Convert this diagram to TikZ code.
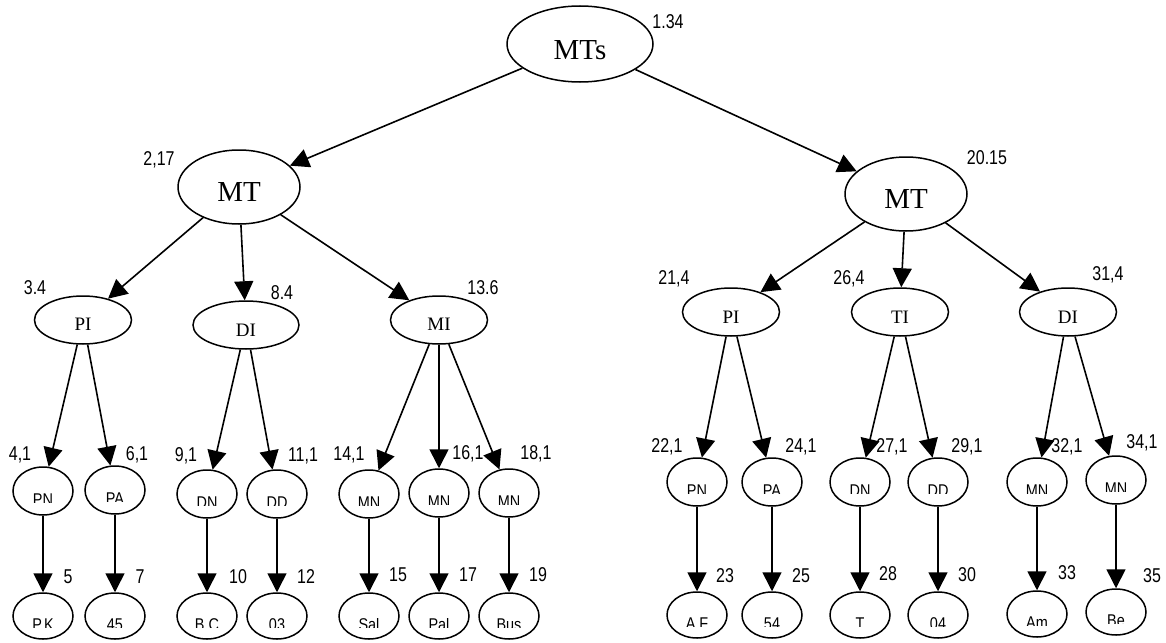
\documentclass[tikz,border=0pt]{standalone}
\usepackage{fontspec}
\setmainfont{Liberation Serif}
\newfontfamily\narrow[FakeStretch=0.85]{Liberation Sans}
\newfontfamily\numfont[FakeStretch=0.8]{Liberation Sans}
\usepackage{trimclip}
\usetikzlibrary{shapes.geometric,arrows.meta}
\newcommand\tx[2]{\raisebox{-#1}[0pt][0pt]{#2}}
\newcommand\ct[1]{\raisebox{-11.5pt}[0pt][0pt]{\clipbox{0pt 3pt 0pt 0pt}{#1}}}
\tikzset{
  ell/.style={draw, ellipse, line width=1.5pt, inner sep=0pt},
  topn/.style={ell, minimum width=146pt, minimum height=76pt, font=\fontsize{29}{31}\selectfont},
  mtn/.style={ell, minimum width=122pt, minimum height=74pt, font=\fontsize{29}{31}\selectfont},
  lvtwo/.style={ell, minimum width=97pt, minimum height=48pt, font=\fontsize{19}{21}\selectfont},
  lvthree/.style={ell, minimum width=60pt, minimum height=48pt, font=\narrow\fontsize{17}{19}\selectfont},
  leafn/.style={ell, minimum width=60pt, minimum height=46pt, font=\narrow\fontsize{17}{19}\selectfont},
  num/.style={inner sep=0pt, font=\numfont\fontsize{20}{22}\selectfont},
  arr/.style={-{Triangle[length=19pt,width=19pt]}, line width=1.6pt},
}
\begin{document}
\begin{tikzpicture}[x=1pt,y=-1pt]
\useasboundingbox (0,0) rectangle (1166,642);
% level 0/1
\node[topn] (root) at (580,44) {\tx{16pt}{MTs}};
\node[mtn] (mtl) at (239,187) {\tx{14pt}{MT}};
\node[mtn] (mtr) at (906,194) {\tx{14pt}{MT}};
% level 2
\node[lvtwo] (pil) at (83,320) {\tx{10pt}{PI}};
\node[lvtwo, minimum width=106pt] (dil) at (246,325) {\tx{11pt}{DI}};
\node[lvtwo] (mil) at (439,320) {\tx{10pt}{MI}};
\node[lvtwo] (pir) at (731,312) {\tx{11pt}{PI}};
\node[lvtwo] (tir) at (900,312) {\tx{11pt}{TI}};
\node[lvtwo] (dir) at (1068,312) {\tx{11pt}{DI}};
% level 3
\node[lvthree] (pnl) at (43,491) {\ct{PN}};
\node[lvthree] (pal) at (115,490) {\ct{PA}};
\node[lvthree] (dnl) at (207,494) {\ct{DN}};
\node[lvthree] (ddl) at (277,494) {\ct{DD}};
\node[lvthree] (mna) at (369,494) {\ct{MN}};
\node[lvthree] (mnb) at (439,493) {\ct{MN}};
\node[lvthree] (mnc) at (509,493) {\ct{MN}};
\node[lvthree] (pnr) at (697,482) {\ct{PN}};
\node[lvthree] (par) at (772,482) {\ct{PA}};
\node[lvthree] (dnr) at (860,482) {\ct{DN}};
\node[lvthree] (ddr) at (938,482) {\ct{DD}};
\node[lvthree] (mnd) at (1037,482) {\ct{MN}};
\node[lvthree] (mne) at (1116,480) {\ct{MN}};
% leaves
\node[leafn] (pk) at (43,616) {\ct{P.K}};
\node[leafn] (lfa) at (115,616) {\ct{45}};
\node[leafn] (bc) at (207,616) {\ct{B.C}};
\node[leafn] (lfb) at (277,616) {\ct{03}};
\node[leafn] (sal) at (369,616) {\ct{Sal}};
\node[leafn] (pall) at (439,616) {\ct{Pal}};
\node[leafn] (bus) at (509,616) {\ct{Bus}};
\node[leafn] (af) at (697,615) {\ct{A.F}};
\node[leafn] (lfc) at (772,615) {\ct{54}};
\node[leafn] (tt) at (860,615) {\ct{T}};
\node[leafn] (lfd) at (938,615) {\ct{04}};
\node[leafn] (am) at (1037,614) {\ct{Am}};
\node[leafn] (be) at (1116,612) {\ct{Be}};
% number labels
\node[num] (n1) at (668,22) {1.34};
\node[num] (n2) at (159,160) {2,17};
\node[num] (n20) at (987,158) {20.15};
\node[num] (n3) at (35,288) {3.4};
\node[num] (n8) at (282,293) {8.4};
\node[num] (n13) at (483,288) {13.6};
\node[num] (n21) at (674,279) {21,4};
\node[num] (n26) at (849,279) {26,4};
\node[num] (n31) at (1108,275) {31,4};
\node[num] (n4) at (20,455) {4,1};
\node[num] (n6) at (137,455) {6,1};
\node[num] (n9) at (186,456) {9,1};
\node[num] (n11) at (303,456) {11,1};
\node[num] (n14) at (349,455) {14,1};
\node[num] (n16) at (468,454) {16,1};
\node[num] (n18) at (536,454) {18,1};
\node[num] (n22) at (667,447) {22,1};
\node[num] (n24) at (801,447) {24,1};
\node[num] (n27) at (892,447) {27,1};
\node[num] (n29) at (967,447) {29,1};
\node[num] (n32) at (1067,447) {32,1};
\node[num] (n34) at (1142,443) {34,1};
\node[num] (n5) at (68,577) {5};
\node[num] (n7) at (140,577) {7};
\node[num] (n10) at (238,577) {10};
\node[num] (n12) at (306,577) {12};
\node[num] (n15) at (398,575) {15};
\node[num] (n17) at (468,575) {17};
\node[num] (n19) at (538,575) {19};
\node[num] (n23) at (725,576) {23};
\node[num] (n25) at (801,576) {25};
\node[num] (n28) at (888,574) {28};
\node[num] (n30) at (967,575) {30};
\node[num] (n33) at (1067,573) {33};
\node[num] (n35) at (1152,576) {35};
% connectors
\draw[arr] (root) -- (mtl);
\draw[arr] (root) -- (mtr);
\draw[arr] (mtl) -- (pil);
\draw[arr] (mtl) -- (dil);
\draw[arr] (mtl) -- (mil);
\draw[arr] (mtr) -- (pir);
\draw[arr] (mtr) -- (tir);
\draw[arr] (mtr) -- (dir);
\draw[arr] (pil) -- (pnl);
\draw[arr] (pil) -- (pal);
\draw[arr] (dil) -- (dnl);
\draw[arr] (dil) -- (ddl);
\draw[arr] (mil) -- (mna);
\draw[arr] (mil) -- (mnb);
\draw[arr] (mil) -- (mnc);
\draw[arr] (pir) -- (pnr);
\draw[arr] (pir) -- (par);
\draw[arr] (tir) -- (dnr);
\draw[arr] (tir) -- (ddr);
\draw[arr] (dir) -- (mnd);
\draw[arr] (dir) -- (mne);
\draw[arr] (pnl) -- (pk);
\draw[arr] (pal) -- (lfa);
\draw[arr] (dnl) -- (bc);
\draw[arr] (ddl) -- (lfb);
\draw[arr] (mna) -- (sal);
\draw[arr] (mnb) -- (pall);
\draw[arr] (mnc) -- (bus);
\draw[arr] (pnr) -- (af);
\draw[arr] (par) -- (lfc);
\draw[arr] (dnr) -- (tt);
\draw[arr] (ddr) -- (lfd);
\draw[arr] (mnd) -- (am);
\draw[arr] (mne) -- (be);
\end{tikzpicture}
\end{document}
